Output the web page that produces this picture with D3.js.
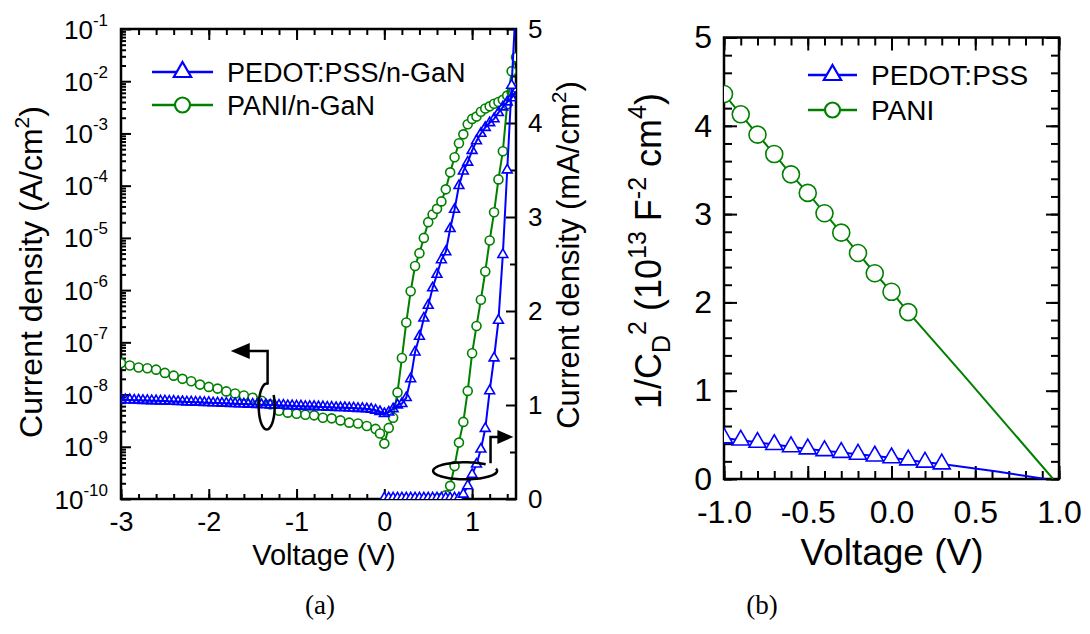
<!DOCTYPE html>
<html>
<head>
<meta charset="utf-8">
<script src="https://cdn.jsdelivr.net/npm/d3@7"></script>
<style>
  body { margin: 0; background: #fff; }
  text { font-family: 'Liberation Sans', Arial, sans-serif; fill: #000; }
  .axis line { stroke: #000; stroke-width: 2; }
</style>
</head>
<body>
<div id="chart"></div>
<script>
// ---- panel (a): J-V, log scale (A/cm2) ----
const pedotLogV = [-3,-2.95,-2.9,-2.85,-2.8,-2.75,-2.7,-2.65,-2.6,-2.55,-2.5,-2.45,-2.4,-2.35,-2.3,-2.25,-2.2,-2.15,-2.1,-2.05,
  -2,-1.95,-1.9,-1.85,-1.8,-1.75,-1.7,-1.65,-1.6,-1.55,-1.5,-1.45,-1.4,-1.35,-1.3,-1.25,-1.2,-1.15,-1.1,-1.05,
  -1,-0.95,-0.9,-0.85,-0.8,-0.75,-0.7,-0.65,-0.6,-0.55,-0.5,-0.45,-0.4,-0.35,-0.3,-0.25,-0.2,-0.15,-0.1,-0.05,
  0,0.05,0.1,0.15,0.2,0.25,0.3,0.35,0.4,0.45,0.5,0.55,0.6,0.65,0.7,0.75,0.8,0.85,0.9,0.95,
  1,1.05,1.1,1.15,1.2,1.25,1.3,1.35,1.4,1.45,1.5];
const pedotLogJ = [8.0e-9,7.9e-9,7.9e-9,7.8e-9,7.8e-9,7.7e-9,7.7e-9,7.6e-9,7.6e-9,7.5e-9,
  7.5e-9,7.4e-9,7.4e-9,7.3e-9,7.3e-9,7.2e-9,7.2e-9,7.1e-9,7.1e-9,7.0e-9,
  7.0e-9,6.9e-9,6.9e-9,6.8e-9,6.8e-9,6.7e-9,6.7e-9,6.6e-9,6.6e-9,6.5e-9,
  6.5e-9,6.4e-9,6.4e-9,6.4e-9,6.3e-9,6.3e-9,6.2e-9,6.2e-9,6.1e-9,6.1e-9,
  6.0e-9,6.0e-9,5.9e-9,5.9e-9,5.9e-9,5.8e-9,5.8e-9,5.7e-9,5.7e-9,5.6e-9,
  5.6e-9,5.6e-9,5.5e-9,5.5e-9,5.4e-9,5.4e-9,5.3e-9,5.2e-9,5.0e-9,4.7e-9,
  4.3e-9,4.6e-9,5.3e-9,6.3e-9,6.7e-9,8.7e-9,2.0e-8,6.5e-8,1.3e-7,2.9e-7,
  5.1e-7,1.1e-6,2.0e-6,3.8e-6,5.4e-6,1.5e-5,3.5e-5,1.0e-4,1.9e-4,2.8e-4,
  4.7e-4,7.2e-4,1.0e-3,1.3e-3,1.6e-3,1.9e-3,2.5e-3,3.2e-3,4.0e-3,4.8e-3,6.5e-3];

const paniLogV = [-3,-2.9,-2.8,-2.7,-2.6,-2.5,-2.4,-2.3,-2.2,-2.1,-2,-1.9,-1.8,-1.7,-1.6,-1.5,-1.4,-1.3,-1.2,-1.1,
  -1,-0.9,-0.8,-0.7,-0.6,-0.5,-0.4,-0.3,-0.2,-0.1,-0.05,
  0,0.05,0.1,0.15,0.2,0.25,0.3,0.35,0.4,0.45,0.5,0.55,0.6,0.65,0.7,0.75,0.8,0.85,0.9,0.95,
  1,1.05,1.1,1.15,1.2,1.25,1.3,1.35,1.4,1.45,1.5];
const paniLogJ = [4.0e-8,3.6e-8,3.3e-8,3.2e-8,3.0e-8,2.6e-8,2.3e-8,2.0e-8,1.8e-8,1.55e-8,
  1.4e-8,1.3e-8,1.15e-8,1.05e-8,9.6e-9,8.7e-9,7.6e-9,6.5e-9,4.9e-9,4.5e-9,
  4.3e-9,4.1e-9,4.0e-9,3.6e-9,3.5e-9,3.2e-9,2.9e-9,2.8e-9,2.5e-9,2.2e-9,1.8e-9,
  1.15e-9,2.3e-9,3.6e-9,1.1e-8,5.0e-8,2.4e-7,9.5e-7,2.9e-6,5.1e-6,1.0e-5,
  2.0e-5,2.8e-5,3.6e-5,5.0e-5,8.5e-5,1.8e-4,3.5e-4,6.5e-4,9.6e-4,1.5e-3,
  1.9e-3,2.1e-3,2.6e-3,3.0e-3,3.3e-3,3.7e-3,4.0e-3,4.4e-3,5.3e-3,6.2e-3,7.5e-3];

// ---- panel (a): J-V, linear scale (mA/cm2) ----
const pedotLinV = [0,0.05,0.1,0.15,0.2,0.25,0.3,0.35,0.4,0.45,0.5,0.55,0.6,0.65,0.7,0.75,0.8,0.85,
  0.9,0.95,1,1.05,1.1,1.15,1.2,1.25,1.3,1.35,1.4,1.45,1.5];
const pedotLinJ = [0.01,0.01,0.01,0.01,0.01,0.01,0.01,0.01,0.01,0.01,0.01,0.01,0.01,0.01,0.01,0.01,0.01,0.01,
  0.05,0.14,0.26,0.37,0.53,0.75,1.15,1.5,1.9,2.6,3.5,4.4,5.3];
const paniLinV = [0.6,0.65,0.7,0.75,0.8,0.85,0.9,0.95,1,1.05,1.1,1.15,1.2,1.25,1.3,1.35,1.4,1.45,1.5];
const paniLinJ = [0.005,0.01,0.04,0.14,0.35,0.6,0.82,1.15,1.55,1.84,2.12,2.42,2.75,3.05,3.4,3.7,4.2,4.55,4.7];

// ---- panel (b): 1/C^2 - V (1e13 F^-2 cm^4) ----
const paniCvV = [-1,-0.9,-0.8,-0.7,-0.6,-0.5,-0.4,-0.3,-0.2,-0.1,0,0.1];
const paniCv  = [4.36,4.13,3.9,3.68,3.45,3.24,3.01,2.79,2.56,2.33,2.12,1.89];
const paniFitV = [0.1,0.42,0.965];
const paniFit  = [1.89,1.2,0];
const pedotCvV = [-1,-0.9,-0.8,-0.7,-0.6,-0.5,-0.4,-0.3,-0.2,-0.1,0,0.1,0.2,0.3];
const pedotCv  = [0.465,0.44,0.415,0.39,0.365,0.34,0.32,0.3,0.28,0.26,0.24,0.215,0.19,0.17];
const pedotFitV = [0.3,0.63,0.92];
const pedotFit  = [0.17,0.085,0];

const legendA = ['PEDOT:PSS/n-GaN', 'PANI/n-GaN'];
const legendB = ['PEDOT:PSS', 'PANI'];
const xTicksA = [-3,-2,-1,0,1];
const decades = [1e-10,1e-9,1e-8,1e-7,1e-6,1e-5,1e-4,1e-3,1e-2,1e-1];
const linTicksA = [0,1,2,3,4,5];
const xTicksB = [-1,-0.5,0,0.5,1];
const yTicksB = [0,1,2,3,4,5];

const BLUE = '#0000ff', GREEN = '#008000';
const hyphen = f => d => f(d).replace('−', '-');

const svg = d3.select('#chart').append('svg')
    .attr('width', 1090)
    .attr('height', 634);

const xA = d3.scaleLinear().domain([-3, 1.5]).range([121, 516]),
      yLog = d3.scaleLog().domain([1e-10, 1e-1]).range([499, 29]),
      yLin = d3.scaleLinear().domain([0, 5]).range([499, 29]);

const xB = d3.scaleLinear().domain([-1, 1]).range([724, 1059]),
      yB = d3.scaleLinear().domain([0, 5]).range([479, 37.5]);

const zip = (xs, ys) => xs.map((v, i) => [v, ys[i]]);

// tick marks (inward), no labels
function tickMarks(gen, scale, tr, values, size) {
  return svg.append('g').attr('class', 'axis').attr('transform', tr)
    .call(gen(scale).tickValues(values).tickSize(-size).tickSizeOuter(0).tickFormat(''))
    .call(g => g.select('.domain').remove());
}

// ---------- panel (a) axes ----------
const minorXA = d3.range(-3, 1.45, 0.2);
const minorLog = [];
decades.slice(0, -1).forEach(d => { for (let m = 2; m < 10; m++) minorLog.push(m * d); });

tickMarks(d3.axisBottom, xA, 'translate(0,499)', minorXA, 5);
tickMarks(d3.axisTop, xA, 'translate(0,29)', minorXA, 6);
tickMarks(d3.axisTop, xA, 'translate(0,29)', xTicksA, 11);
tickMarks(d3.axisLeft, yLog, 'translate(121,0)', minorLog, 5);
tickMarks(d3.axisRight, yLin, 'translate(516,0)', d3.range(0.5, 5, 1), 6);

svg.append('g').attr('class', 'axis').attr('transform', 'translate(0,499)')
    .call(d3.axisBottom(xA).tickValues(xTicksA).tickSize(-10).tickSizeOuter(0).tickPadding(13)
      .tickFormat(hyphen(d3.format('d'))))
    .call(g => g.select('.domain').remove())
    .selectAll('text').style('font-size', '27px');

svg.append('g').attr('class', 'axis').attr('transform', 'translate(121,0)')
    .call(d3.axisLeft(yLog).tickValues(decades).tickSize(-10).tickSizeOuter(0).tickPadding(13).tickFormat(''))
    .call(g => g.select('.domain').remove())
    .selectAll('.tick text')
    .each(function(d) {
      const t = d3.select(this).attr('dy', null).attr('y', 9).style('font-size', '26px');
      t.append('tspan').text('10');
      t.append('tspan').attr('dy', -13).style('font-size', '17px').text(Math.round(Math.log10(d)));
    });

svg.append('g').attr('class', 'axis').attr('transform', 'translate(516,0)')
    .call(d3.axisRight(yLin).tickValues(linTicksA).tickSize(-10).tickSizeOuter(0).tickPadding(12)
      .tickFormat(d3.format('d')))
    .call(g => g.select('.domain').remove())
    .selectAll('text').style('font-size', '26px');

svg.append('rect')
    .attr('x', 121).attr('y', 29).attr('width', 395).attr('height', 470)
    .attr('fill', 'none').attr('stroke', '#000').attr('stroke-width', 2.5);

// ---------- panel (b) axes ----------
const minorXB = d3.range(-1, 1.001, 0.1),
      minorYB = d3.range(0, 5.001, 0.2);
tickMarks(d3.axisBottom, xB, 'translate(0,479)', minorXB, 8);
tickMarks(d3.axisTop, xB, 'translate(0,37.5)', minorXB, 8);
tickMarks(d3.axisTop, xB, 'translate(0,37.5)', xTicksB, 13);
tickMarks(d3.axisLeft, yB, 'translate(724,0)', minorYB, 8);
tickMarks(d3.axisRight, yB, 'translate(1059,0)', minorYB, 8);
tickMarks(d3.axisRight, yB, 'translate(1059,0)', yTicksB, 13);

svg.append('g').attr('class', 'axis').attr('transform', 'translate(0,479)')
    .call(d3.axisBottom(xB).tickValues(xTicksB).tickSize(-13).tickSizeOuter(0).tickPadding(21)
      .tickFormat(hyphen(d3.format('.1f'))))
    .call(g => g.select('.domain').remove())
    .selectAll('text').style('font-size', '32px');

svg.append('g').attr('class', 'axis').attr('transform', 'translate(724,0)')
    .call(d3.axisLeft(yB).tickValues(yTicksB).tickSize(-13).tickSizeOuter(0).tickPadding(12)
      .tickFormat(d3.format('d')))
    .call(g => g.select('.domain').remove())
    .selectAll('text').style('font-size', '32px');

svg.append('rect')
    .attr('x', 724).attr('y', 37.5).attr('width', 335).attr('height', 441.5)
    .attr('fill', 'none').attr('stroke', '#000').attr('stroke-width', 2.5);

// ---------- clip paths ----------
const defs = svg.append('defs');
defs.append('clipPath').attr('id', 'clipA').append('rect')
    .attr('x', 121).attr('y', 29).attr('width', 395).attr('height', 470);
defs.append('clipPath').attr('id', 'clipB').append('rect')
    .attr('x', 724).attr('y', 37.5).attr('width', 335).attr('height', 441.5);

const tri = s => d3.symbol().type(d3.symbolTriangle).size(s)();

function series(g, pts, x, y, color, shape, size, fill) {
  g.append('path').datum(pts)
      .attr('fill', 'none').attr('stroke', color).attr('stroke-width', 2)
      .attr('d', d3.line().x(d => x(d[0])).y(d => y(d[1])));
  if (shape === 'tri') {
    g.append('g').selectAll('path').data(pts).enter().append('path')
        .attr('d', tri(size))
        .attr('transform', d => 'translate(' + x(d[0]) + ',' + y(d[1]) + ')')
        .attr('fill', fill).attr('stroke', color).attr('stroke-width', 1.6);
  } else if (shape === 'circ') {
    g.append('g').selectAll('circle').data(pts).enter().append('circle')
        .attr('cx', d => x(d[0])).attr('cy', d => y(d[1])).attr('r', size)
        .attr('fill', fill).attr('stroke', color).attr('stroke-width', 1.6);
  }
}

const plotA = svg.append('g').attr('clip-path', 'url(#clipA)');
series(plotA, zip(paniLogV, paniLogJ), xA, yLog, GREEN, 'circ', 4.5, '#fff');
series(plotA, zip(paniLinV, paniLinJ), xA, yLin, GREEN, 'circ', 4.5, '#fff');
series(plotA, zip(pedotLogV, pedotLogJ), xA, yLog, BLUE, 'tri', 42, 'none');
series(plotA, zip(pedotLinV, pedotLinJ), xA, yLin, BLUE, 'tri', 42, '#fff');

const plotB = svg.append('g').attr('clip-path', 'url(#clipB)');
series(plotB, zip(paniFitV, paniFit), xB, yB, GREEN, null);
series(plotB, zip(paniCvV, paniCv), xB, yB, GREEN, 'circ', 8.5, '#fff');
series(plotB, zip(pedotFitV, pedotFit), xB, yB, BLUE, null);
series(plotB, zip(pedotCvV, pedotCv), xB, yB, BLUE, 'tri', 125, '#fff');

// ---------- annotations (a) ----------
const ann = svg.append('g').attr('stroke', '#000').attr('stroke-width', 2.5).attr('fill', 'none');
{
  const tx = xA(-1.75), ty = yLog(6.8e-8), cx = xA(-1.33), ey = yLog(1.55e-8);
  ann.append('path').attr('d', 'M' + (tx + 17) + ',' + ty + 'H' + cx + 'V' + ey);
  ann.append('path').attr('fill', '#000').attr('stroke', 'none')
      .attr('d', 'M' + tx + ',' + ty + 'L' + (tx + 19) + ',' + (ty - 8) + 'L' + (tx + 19) + ',' + (ty + 8) + 'Z');
  const lx = xA(-1.34), ly = yLog(5.9e-9);
  const pts = d3.range(-80, -391, -5).map(a => [lx + 8 * Math.cos(a * Math.PI / 180), ly + 23 * Math.sin(a * Math.PI / 180)]);
  ann.append('path').attr('d', d3.line().curve(d3.curveBasis)(pts));
}
{
  const tx = xA(1.47), ty = yLin(0.66), cx = xA(1.21), ey = yLin(0.38);
  ann.append('path').attr('d', 'M' + (tx - 14) + ',' + ty + 'H' + cx + 'V' + ey);
  ann.append('path').attr('fill', '#000').attr('stroke', 'none')
      .attr('d', 'M' + tx + ',' + ty + 'L' + (tx - 16) + ',' + (ty - 7) + 'L' + (tx - 16) + ',' + (ty + 7) + 'Z');
  const lx = xA(0.92), ly = yLin(0.30);
  const pts = d3.range(-50, -376, -5).map(a => [lx + 32 * Math.cos(a * Math.PI / 180), ly + 8.5 * Math.sin(a * Math.PI / 180)]);
  ann.append('path').attr('d', d3.line().curve(d3.curveBasis)(pts));
}

// ---------- legends ----------
function legend(x0, y0, dy, names, lineLen, markSize, fontSize, triSize) {
  const lg = svg.append('g');
  const specs = [[BLUE, 'tri'], [GREEN, 'circ']];
  names.forEach((name, i) => {
    const y = y0 + i * dy, [color, shape] = specs[i];
    lg.append('line').attr('x1', x0).attr('x2', x0 + lineLen).attr('y1', y).attr('y2', y)
        .attr('stroke', color).attr('stroke-width', 2.5);
    if (shape === 'tri') {
      lg.append('path').attr('d', tri(triSize))
          .attr('transform', 'translate(' + (x0 + lineLen / 2) + ',' + y + ')')
          .attr('fill', '#fff').attr('stroke', color).attr('stroke-width', 2.2);
    } else {
      lg.append('circle').attr('cx', x0 + lineLen / 2).attr('cy', y).attr('r', markSize)
          .attr('fill', '#fff').attr('stroke', color).attr('stroke-width', 2.2);
    }
    lg.append('text').attr('x', x0 + lineLen + 14).attr('y', y + fontSize * 0.36)
        .style('font-size', fontSize + 'px').text(name);
  });
}
legend(152, 72, 33, legendA, 61, 7.5, 27, 130);
legend(808, 75, 35, legendB, 49, 7.5, 28, 130);

// ---------- axis titles ----------
svg.append('text').attr('x', 324).attr('y', 565).attr('text-anchor', 'middle')
    .style('font-size', '29px').text('Voltage (V)');
svg.append('text').attr('x', 892).attr('y', 565).attr('text-anchor', 'middle')
    .style('font-size', '37px').text('Voltage (V)');

const tA = svg.append('text').attr('transform', 'translate(42,272) rotate(-90)')
    .attr('text-anchor', 'middle').style('font-size', '32px');
tA.append('tspan').text('Current density (A/cm');
tA.append('tspan').attr('dy', -13).style('font-size', '21px').text('2');
tA.append('tspan').attr('dy', 13).text(')');

const tA2 = svg.append('text').attr('transform', 'translate(579,255) rotate(-90)')
    .attr('text-anchor', 'middle').style('font-size', '31px');
tA2.append('tspan').text('Current density (mA/cm');
tA2.append('tspan').attr('dy', -13).style('font-size', '21px').text('2');
tA2.append('tspan').attr('dy', 13).text(')');

const tB = svg.append('text').attr('transform', 'translate(661,251) rotate(-90)')
    .attr('text-anchor', 'middle').style('font-size', '36px');
[['1/C', 0, 36], ['D', 9, 25], ['2', -24, 25], [' (10', 15, 36], ['13', -15, 25], [' F', 15, 36],
 ['-2', -15, 25], [' cm', 15, 36], ['4', -15, 25], [')', 15, 36]].forEach(([s, dy, fs]) => {
  tB.append('tspan').attr('dy', dy).style('font-size', fs + 'px').text(s);
});

svg.append('text').attr('x', 320).attr('y', 614).attr('text-anchor', 'middle')
    .style('font-family', "'Liberation Serif', 'DejaVu Serif', serif").style('font-size', '27px').text('(a)');
svg.append('text').attr('x', 762).attr('y', 614).attr('text-anchor', 'middle')
    .style('font-family', "'Liberation Serif', 'DejaVu Serif', serif").style('font-size', '27px').text('(b)');
</script>
</body>
</html>
